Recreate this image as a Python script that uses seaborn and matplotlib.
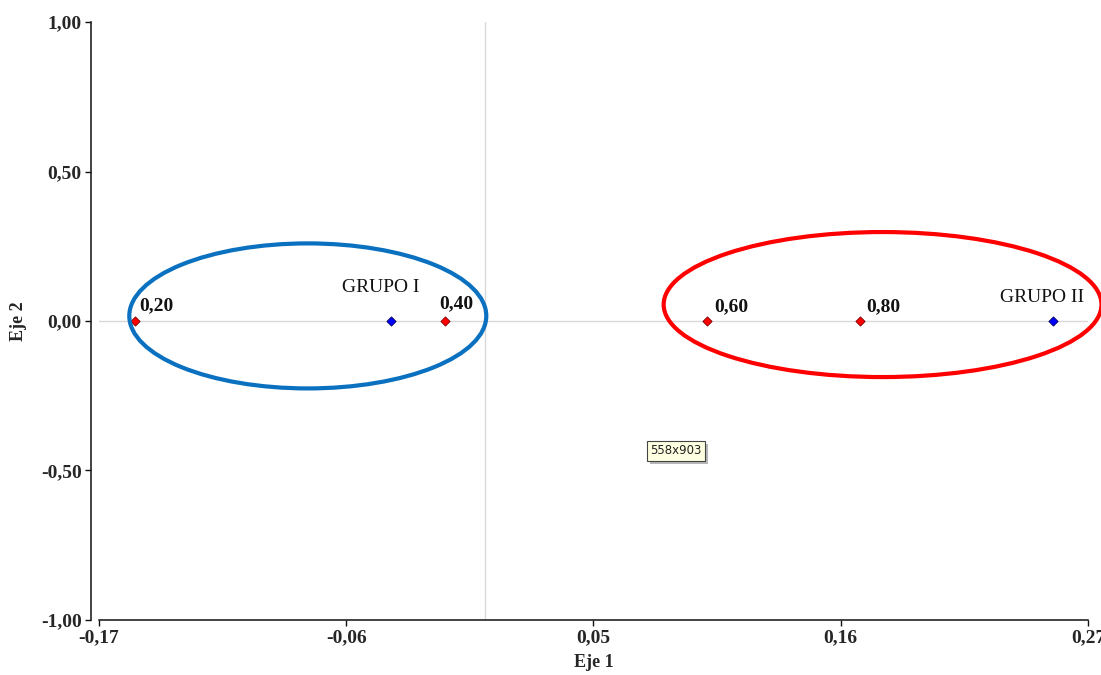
import numpy as np
import pandas as pd
import matplotlib.pyplot as plt
import matplotlib.ticker as mticker
from matplotlib.patches import Ellipse
from matplotlib import patheffects
import seaborn as sns

# --- Data ---
point_labels = ['0,20', '0,40', '0,60', '0,80', 'GRUPO I', 'GRUPO II']
point_type = ['valor', 'valor', 'valor', 'valor', 'grupo', 'grupo']
eje1 = [-0.156, -0.018, 0.099, 0.167, -0.042, 0.253]
eje2 = [0.0, 0.0, 0.0, 0.0, 0.0, 0.0]

# axis range of the original software (ticks are rounded when printed)
x_range = [-0.172, 0.2685]
y_ticks = [-1.0, -0.5, 0.0, 0.5, 1.0]

# group ellipses: centre x, centre y, width, height
ellipse_centre_x = [-0.079, 0.177]
ellipse_centre_y = [0.017, 0.055]
ellipse_width = [0.159, 0.195]
ellipse_height = [0.485, 0.485]
ellipse_colors = ['#0a70c0', '#ff0000']

df = pd.DataFrame({'label': point_labels, 'tipo': point_type, 'eje1': eje1, 'eje2': eje2})

# --- Style ---
sns.set_style('white')
plt.rcParams['font.family'] = ['Liberation Serif', 'DejaVu Serif']

fig = plt.figure(figsize=(11.01, 6.75), dpi=100)
ax = fig.add_axes([0.0899, 0.0815, 0.8983, 0.8859])

# reference lines through the origin
ax.axvline(0, color='#d9d9d9', lw=1, zorder=0)
ax.axhline(0, color='#d9d9d9', lw=1, zorder=0)

# points
sns.scatterplot(data=df[df['tipo'] == 'valor'], x='eje1', y='eje2', color='#ff0000',
                marker='D', s=22, edgecolor='#7a0000', linewidth=0.6, ax=ax, zorder=3)
sns.scatterplot(data=df[df['tipo'] == 'grupo'], x='eje1', y='eje2', color='#0000ff',
                marker='D', s=22, edgecolor='#00005a', linewidth=0.6, ax=ax, zorder=3)

# point labels (offsets in pixels ~ points)
label_offsets = {'0,20': (3, 7.5), '0,40': (-4, 9), '0,60': (5, 7), '0,80': (4.5, 7),
                 'GRUPO I': (-7, 21), 'GRUPO II': (-8, 14)}
for _, row in df.iterrows():
    dx, dy = label_offsets[row['label']]
    if row['tipo'] == 'valor':
        ax.annotate(row['label'], (row['eje1'], row['eje2']), xytext=(dx, dy),
                    textcoords='offset points', ha='left', va='baseline',
                    fontsize=14, fontweight='bold', color='#111111')
    else:
        ax.annotate(row['label'], (row['eje1'], row['eje2']), xytext=(dx, dy),
                    textcoords='offset points', ha='center', va='baseline',
                    fontsize=14, color='#111111')

# group ellipses
for cx, cy, w, h, c in zip(ellipse_centre_x, ellipse_centre_y, ellipse_width,
                           ellipse_height, ellipse_colors):
    ax.add_patch(Ellipse((cx, cy), w, h, fill=False, edgecolor=c, lw=3, clip_on=False, zorder=4))

# axes
ax.set_xlim(x_range)
ax.set_ylim(-1.0, 1.0)
ax.xaxis.set_major_locator(mticker.FixedLocator(np.linspace(x_range[0], x_range[1], 5)))
ax.yaxis.set_major_locator(mticker.FixedLocator(y_ticks))
comma_fmt = mticker.FuncFormatter(lambda v, pos: f'{v:.2f}'.replace('.', ','))
ax.xaxis.set_major_formatter(comma_fmt)
ax.yaxis.set_major_formatter(comma_fmt)

sns.despine(ax=ax)
ax.spines['left'].set_position(('outward', 5.4))
for side in ['left', 'bottom']:
    ax.spines[side].set_color('#111111')
    ax.spines[side].set_linewidth(1.1)
ax.tick_params(direction='out', length=4, width=1, color='#111111', labelsize=14, pad=3,
               bottom=True, left=True)
for lbl in ax.get_xticklabels() + ax.get_yticklabels():
    lbl.set_fontweight('bold')

ax.set_xlabel('Eje 1', fontsize=13, fontweight='bold', labelpad=5)
ax.set_ylabel('Eje 2', fontsize=13, fontweight='bold', labelpad=10)

# screen tooltip captured in the original screenshot
tip = fig.text(676 / 1101, 1 - 451 / 675, '558x903', ha='center', va='center',
               fontsize=8.5, family='DejaVu Sans', color='#222222',
               bbox=dict(boxstyle='square,pad=0.3', facecolor='#ffffe1', edgecolor='#444444', lw=0.8))
tip.get_bbox_patch().set_path_effects([patheffects.withSimplePatchShadow(offset=(2, -2),
                                                                         shadow_rgbFace='#888888',
                                                                         alpha=0.6)])

fig.savefig('out.png', dpi=100)
